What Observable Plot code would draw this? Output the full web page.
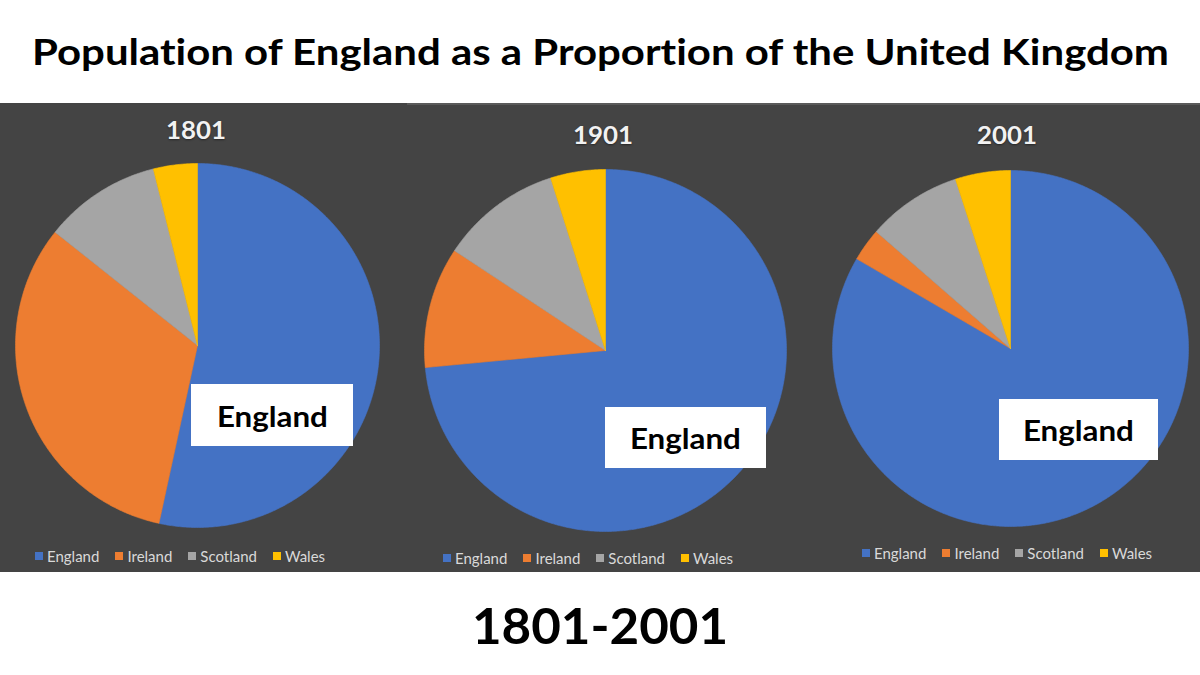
<!DOCTYPE html>
<html>
<head>
<meta charset="utf-8">
<script src="https://cdn.jsdelivr.net/npm/d3@7"></script>
<script src="https://cdn.jsdelivr.net/npm/@observablehq/plot@0.6"></script>
<style>
  html, body { margin: 0; padding: 0; }
  body { width: 1200px; height: 675px; position: relative; overflow: hidden; background: #ffffff; font-family: Lato, "Open Sans", sans-serif; font-variant-ligatures: none; }
  .fit { position: absolute; white-space: nowrap; line-height: 1; font-weight: 700; color: #000; transform-origin: 0 0; }
  .panel { position: absolute; top: 103px; height: 469px; background: #444444; }
  .pie { position: absolute; }
  .year { position: absolute; white-space: nowrap; line-height: 1; font-size: 24px; font-weight: 700; color: #f2f2f2; text-shadow: 0 1px 2px rgba(0,0,0,0.45); transform-origin: 0 0; }
  .box { position: absolute; background: #ffffff; display: flex; align-items: center; justify-content: center; }
  .box span { font-size: 29px; font-weight: 700; color: #000; line-height: 1; display: inline-block; }
  .leg { position: absolute; }
  .leg .lg-swatches { font-family: Lato, sans-serif !important; font-size: 15px !important; color: #d9d9d9 !important; min-height: 0; margin: 0; display: flex; }
  .leg .lg-swatch { margin-right: 16px; display: inline-flex; align-items: center; }
  .leg .lg-swatch > svg { margin-right: 4px; }
</style>
</head>
<body>
<div id="title" class="fit">Population of England as a Proportion of the United Kingdom</div>
<div class="panel" style="left:0;width:407px;"></div>
<div class="panel" style="left:407px;width:401px;border-top:2px solid #5a5a5a;height:467px;"></div>
<div class="panel" style="left:808px;width:392px;border-top:2px solid #5a5a5a;height:467px;"></div>
<div id="root"></div>
<div id="foot" class="fit">1801-2001</div>
<script>
// ---- data ----
const years = ["1801", "1901", "2001"];
const countries = ["England", "Ireland", "Scotland", "Wales"];
const share1801 = [53.4, 32.3, 10.4, 3.9];
const share1901 = [73.5, 10.8, 10.8, 4.9];
const share2001 = [83.4, 3.0, 8.6, 5.0];
const colors = ["#4472C4", "#ED7D31", "#A5A5A5", "#FFC000"];
const boxLabel = "England";

// ---- layout (page pixels) ----
const layout = [
  {cx: 196.5, cy: 344.5, r: 182, yearX: 196, yearBase: 139, box: [191, 384, 162, 62], legX: 35, legY: 557},
  {cx: 605, cy: 349.5, r: 181, yearX: 603, yearBase: 144, box: [605, 407, 161, 61], legX: 443, legY: 559},
  {cx: 1010, cy: 347.5, r: 178, yearX: 1007, yearBase: 144, box: [999, 399, 159, 61], legX: 862, legY: 554}
];
const seriesByYear = [share1801, share1901, share2001];

function wedges(values) {
  const arcs = d3.pie().sort(null)(values);
  const pts = [];
  arcs.forEach((a, i) => {
    const name = countries[i];
    pts.push({name, x: 0, y: 0});
    const n = Math.max(2, Math.ceil((a.endAngle - a.startAngle) / (Math.PI / 360)));
    for (let k = 0; k <= n; k++) {
      const t = a.startAngle + (a.endAngle - a.startAngle) * k / n;
      pts.push({name, x: Math.sin(t), y: Math.cos(t)});
    }
    pts.push({name, x: 0, y: 0});
  });
  return pts;
}

function fit(el, target, baseline, size, center) {
  el.style.fontSize = size + "px";
  const w = el.getBoundingClientRect().width;
  const s = target / w;
  el.style.top = (baseline - 0.887 * size) + "px";
  el.style.left = (center - target / 2) + "px";
  el.style.transform = `scaleX(${s})`;
}

const root = document.getElementById("root");

years.forEach((yr, i) => {
  const L = layout[i];
  const pts = wedges(seriesByYear[i]);
  const chart = Plot.plot({
    width: 2 * L.r,
    height: 2 * L.r,
    margin: 0,
    x: {domain: [-1, 1], axis: null},
    y: {domain: [-1, 1], axis: null},
    color: {domain: countries, range: colors},
    style: {background: "transparent", overflow: "visible"},
    marks: [
      Plot.line(pts, {x: "x", y: "y", z: "name", fill: "name", stroke: "name", strokeWidth: 0.6, curve: "linear"})
    ]
  });
  const wrap = document.createElement("div");
  wrap.className = "pie";
  wrap.style.left = (L.cx - L.r) + "px";
  wrap.style.top = (L.cy - L.r) + "px";
  wrap.appendChild(chart);
  root.appendChild(wrap);

  const y = document.createElement("div");
  y.className = "year";
  y.textContent = yr;
  root.appendChild(y);
  fit(y, 60, L.yearBase, 24, L.yearX);

  const b = document.createElement("div");
  b.className = "box";
  b.style.left = L.box[0] + "px";
  b.style.top = L.box[1] + "px";
  b.style.width = L.box[2] + "px";
  b.style.height = L.box[3] + "px";
  const sp = document.createElement("span");
  sp.textContent = boxLabel;
  b.appendChild(sp);
  root.appendChild(b);
  const sw = sp.getBoundingClientRect().width;
  sp.style.transform = `scaleX(${111 / sw})`;

  const leg = Plot.legend({
    color: {domain: countries, range: colors},
    legend: "swatches",
    swatchSize: 8,
    className: "lg"
  });
  const lw = document.createElement("div");
  lw.className = "leg";
  lw.style.left = L.legX + "px";
  lw.style.top = (L.legY - 10) + "px";
  lw.appendChild(leg);
  root.appendChild(lw);
});

fit(document.getElementById("title"), 1137, 65, 36, 600);
fit(document.getElementById("foot"), 256, 644, 50, 600);
</script>
</body>
</html>
